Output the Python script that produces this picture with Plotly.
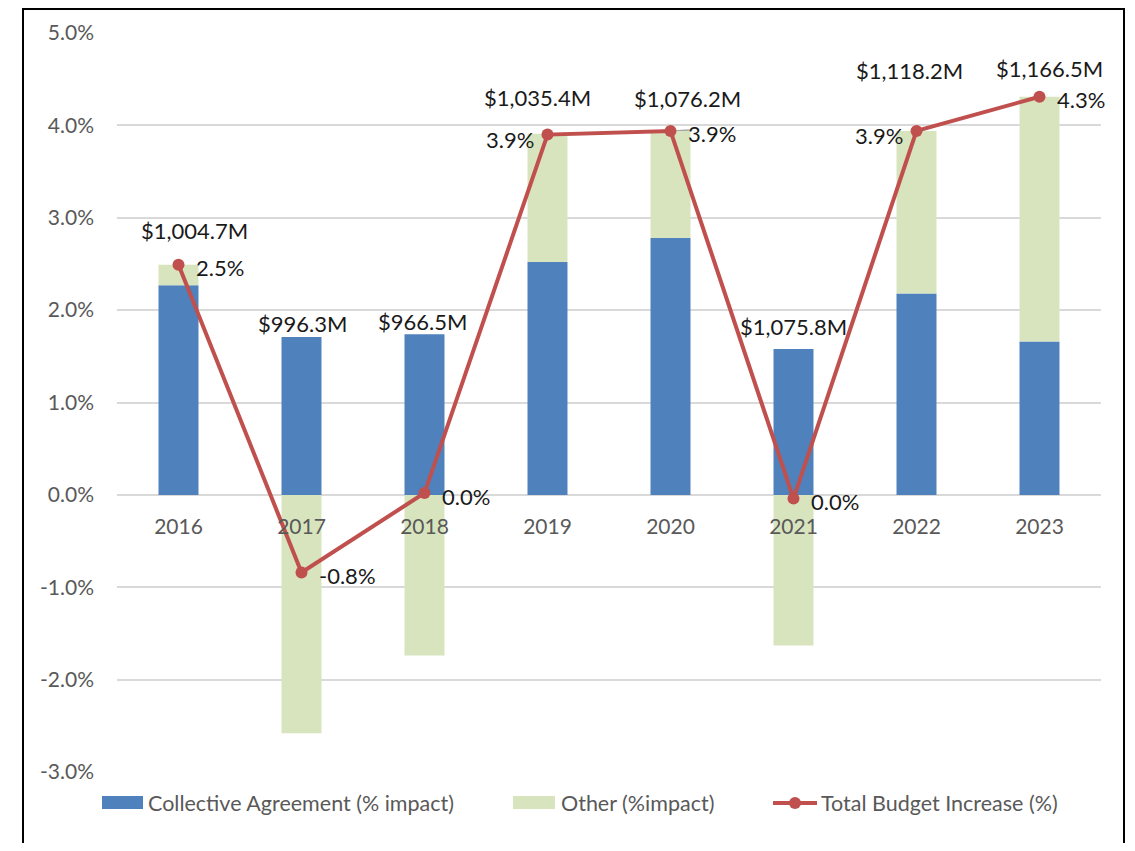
import plotly.graph_objects as go

# ---- data ----
years = ["2016", "2017", "2018", "2019", "2020", "2021", "2022", "2023"]
collective = [2.27, 1.71, 1.74, 2.52, 2.78, 1.58, 2.18, 1.66]      # % impact
other = [0.22, -2.58, -1.74, 1.39, 1.16, -1.63, 1.76, 2.65]        # % impact
total = [2.49, -0.84, 0.02, 3.90, 3.94, -0.04, 3.94, 4.31]         # %
budget = ["$1,004.7M", "$996.3M", "$966.5M", "$1,035.4M",
          "$1,076.2M", "$1,075.8M", "$1,118.2M", "$1,166.5M"]
y_ticks = [-3, -2, -1, 0, 1, 2, 3, 4, 5]

# ---- style ----
BLUE = "#4F81BD"
GREEN = "#D7E4BD"
RED = "#C0504D"
GRID = "#D9D9D9"
AXIS_TXT = "#595959"
LBL_TXT = "#1a1a1a"
FONT = "Lato"
BODY = 8  # default page body margin of the html page
FIG_W, FIG_H = 1135 - 2 * BODY, 851 - 2 * BODY

budget_dx = [16, 1, -2, -10, 17, 0, -7, 10]
budget_dy = [34, 13, 13, 36, 32, 22, 60, 28]
pct_side = ["right", "right", "right", "left", "right", "right", "left", "right"]
leader_idx = 4  # label with a small leader line

fig = go.Figure()
fig.add_trace(go.Bar(x=years, y=collective, name="Collective Agreement (% impact)",
                     marker=dict(color=BLUE, line=dict(width=0))))
fig.add_trace(go.Bar(x=years, y=other, name="Other (%impact)",
                     marker=dict(color=GREEN, line=dict(width=0))))
fig.add_trace(go.Scatter(x=years, y=total, name="Total Budget Increase (%)",
                         mode="lines+markers",
                         line=dict(color=RED, width=4),
                         marker=dict(color=RED, size=12)))

annotations = []
for i, yr in enumerate(years):
    top = max(collective[i] + max(other[i], 0), total[i], 0)
    annotations.append(dict(x=i, y=top, xref="x", yref="y", text=budget[i],
                            showarrow=False, xanchor="center", yanchor="middle",
                            xshift=budget_dx[i], yshift=budget_dy[i],
                            font=dict(family=FONT, size=22, color=LBL_TXT)))
    lbl = f"{total[i]:.1f}%"
    if lbl.startswith("-0.0"):
        lbl = lbl[1:]
    if pct_side[i] == "right":
        annotations.append(dict(x=i, y=total[i], xref="x", yref="y", text=lbl,
                                showarrow=False, xanchor="left", yanchor="middle",
                                xshift=15, yshift=-3,
                                font=dict(family=FONT, size=22, color=LBL_TXT)))
    else:
        annotations.append(dict(x=i, y=total[i], xref="x", yref="y", text=lbl,
                                showarrow=False, xanchor="right", yanchor="middle",
                                xshift=-12, yshift=-5,
                                font=dict(family=FONT, size=22, color=LBL_TXT)))

# ---- custom legend (page coords: plot area 117..1101 x, 33..772 y) ----
PL, PW, PB, PH = 117, 984, 772, 739
def px(x):
    return (x - PL) / PW
def py(y):
    return (PB - y) / PH

shapes = []
# leader line of the 2020 percent label
shapes.append(dict(type="line", xref="x", yref="y",
                   xsizemode="pixel", ysizemode="pixel",
                   xanchor=leader_idx, yanchor=total[leader_idx],
                   x0=3, x1=19, y0=0, y1=1,
                   line=dict(color="#A6A6A6", width=1.5), layer="below"))
shapes.append(dict(type="rect", xref="paper", yref="paper",
                   x0=px(102), x1=px(143), y0=py(809), y1=py(796),
                   fillcolor=BLUE, line=dict(width=0)))
shapes.append(dict(type="rect", xref="paper", yref="paper",
                   x0=px(513), x1=px(555), y0=py(809), y1=py(796),
                   fillcolor=GREEN, line=dict(width=0)))
shapes.append(dict(type="line", xref="paper", yref="paper",
                   x0=px(773), x1=px(817), y0=py(803), y1=py(803),
                   line=dict(color=RED, width=4)))
shapes.append(dict(type="circle", xref="paper", yref="paper",
                   x0=px(789), x1=px(801), y0=py(809), y1=py(797),
                   fillcolor=RED, line=dict(width=0)))
# outer frame
shapes.append(dict(type="rect", xref="paper", yref="paper",
                   x0=px(23), x1=px(1124), y0=py(900), y1=py(9),
                   fillcolor="rgba(0,0,0,0)", line=dict(color="black", width=2),
                   layer="above"))

legend_items = [("Collective Agreement (% impact)", 146),
                ("Other (%impact)", 559),
                ("Total Budget Increase (%)", 819)]
for txt, xl in legend_items:
    annotations.append(dict(x=px(xl), y=py(803), xref="paper", yref="paper",
                            text=txt, showarrow=False, xanchor="left", yanchor="middle",
                            font=dict(family=FONT, size=21.5, color=AXIS_TXT)))

fig.update_layout(
    width=FIG_W, height=FIG_H,
    margin=dict(l=PL - BODY, r=FIG_W - (PL + PW - BODY),
                t=(PB - PH) - BODY, b=FIG_H - (PB - BODY)),
    paper_bgcolor="white", plot_bgcolor="white",
    barmode="relative", bargap=0.675,
    showlegend=False,
    font=dict(family=FONT, size=21, color=AXIS_TXT),
    annotations=annotations, shapes=shapes,
    xaxis=dict(type="category", anchor="free", position=3 / 8,
               range=[-0.5, 7.5], automargin=False,
               showline=False, showgrid=False, ticks="",
               ticklabelstandoff=17,
               tickfont=dict(family=FONT, size=21, color=AXIS_TXT)),
    yaxis=dict(range=[-3, 5], tickvals=y_ticks, automargin=False,
               ticktext=[f"{v:.1f}%" for v in y_ticks],
               showgrid=True, gridcolor=GRID, gridwidth=2,
               zeroline=True, zerolinecolor=GRID, zerolinewidth=2,
               showline=False, ticks="", ticklabelstandoff=22,
               tickfont=dict(family=FONT, size=21, color=AXIS_TXT)),
)

fig.write_html("out.html")
